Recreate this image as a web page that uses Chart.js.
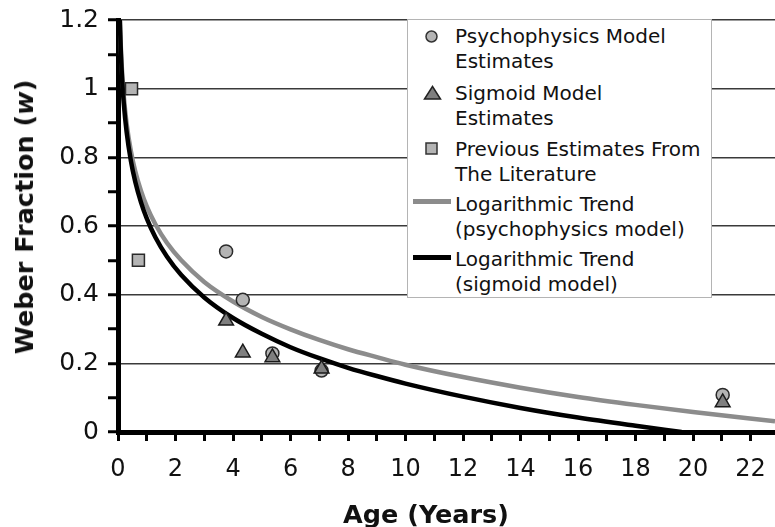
<!DOCTYPE html>
<html>
<head>
<meta charset="utf-8">
<script src="https://cdn.jsdelivr.net/npm/chart.js@4.4.1/dist/chart.umd.min.js"></script>
<style>
  body { margin: 0; background: #fff; }
  #wrap { position: relative; width: 775px; height: 527px; font-family: "DejaVu Sans", Verdana, sans-serif; color: #111; overflow: hidden; }
  #chart { position: absolute; left: 0; top: 0; }
  .axis-title { position: absolute; font-weight: bold; font-size: 25.5px; line-height: 26px; white-space: nowrap; }
  #legend { position: absolute; left: 407px; top: 19px; width: 305px; height: 279px; box-sizing: border-box; border: 1.5px solid #b4b4b4; background: #fff; }
  .entry { position: absolute; left: 455px; font-size: 20px; line-height: 25px; white-space: nowrap; }
  .icon { position: absolute; }
  .swatch { position: absolute; left: 413px; width: 38px; height: 4.5px; }
</style>
</head>
<body>
<div id="wrap">
  <canvas id="chart" width="775" height="527"></canvas>

  <div class="axis-title" style="left:24px; top:217px; transform: translate(-50%,-50%) rotate(-90deg);">Weber Fraction (<i>w</i>)</div>
  <div class="axis-title" style="left:426px; top:501px; transform: translateX(-50%);">Age (Years)</div>

  <div id="legend"></div>
  <svg class="icon" style="left:424px; top:29px" width="15" height="15"><circle cx="7.5" cy="7.5" r="5.5" fill="#b4b4b4" stroke="#333" stroke-width="1.5"/></svg>
  <div class="entry" style="top:24px">Psychophysics Model<br>Estimates</div>
  <svg class="icon" style="left:423px; top:85px" width="19" height="16"><polygon points="9.5,1.5 1.5,14 17.5,14" fill="#7f7f7f" stroke="#222" stroke-width="1.5"/></svg>
  <div class="entry" style="top:81px">Sigmoid Model<br>Estimates</div>
  <svg class="icon" style="left:425px; top:142px" width="13" height="13"><rect x="1" y="1" width="11" height="11" fill="#b4b4b4" stroke="#333" stroke-width="1.5"/></svg>
  <div class="entry" style="top:137px">Previous Estimates From<br>The Literature</div>
  <div class="swatch" style="top:199px; background:#8c8c8c"></div>
  <div class="entry" style="top:192px">Logarithmic Trend<br>(psychophysics model)</div>
  <div class="swatch" style="top:255px; background:#000"></div>
  <div class="entry" style="top:247px">Logarithmic Trend<br>(sigmoid model)</div>
</div>

<script>
// values
const psyAge = [3.76, 4.34, 5.37, 7.08, 21.03];
const psyW   = [0.526, 0.385, 0.229, 0.179, 0.108];

const sigAge = [3.76, 4.34, 5.37, 7.08, 21.03];
const sigW   = [0.324, 0.231, 0.217, 0.184, 0.086];

const litAge = [0.47, 0.71];
const litW   = [1.0, 0.5];

// trend curves
const psyTrendAge = [0.066, 0.1, 0.15, 0.2, 0.3, 0.45, 0.6, 0.8, 1, 1.3, 1.7, 2.2, 3, 4, 5, 6, 7, 8, 9, 10, 12, 14, 16, 18, 20, 22.85];
const psyTrendW   = [1.2, 1.118, 1.036, 0.979, 0.898, 0.817, 0.759, 0.702, 0.657, 0.605, 0.551, 0.5, 0.437, 0.38, 0.335, 0.299, 0.268, 0.241, 0.218, 0.196, 0.16, 0.129, 0.102, 0.079, 0.058, 0.031];

const sigTrendAge = [0.063, 0.1, 0.15, 0.2, 0.3, 0.45, 0.6, 0.8, 1, 1.3, 1.7, 2.2, 3, 4, 5, 6, 7, 8, 9, 10, 12, 14, 16, 18, 19.6];
const sigTrendW   = [1.2, 1.103, 1.018, 0.958, 0.874, 0.789, 0.729, 0.669, 0.622, 0.567, 0.511, 0.457, 0.392, 0.332, 0.286, 0.247, 0.215, 0.187, 0.163, 0.141, 0.103, 0.07, 0.042, 0.018, 0];

const xMin = 0, xMax = 22.85;
const yMin = 0, yMax = 1.2;

function pts(xs, ys) {
  return xs.map((x, i) => ({ x: x, y: ys[i] }));
}

const fontFamily = '"DejaVu Sans", Verdana, sans-serif';

new Chart(document.getElementById('chart').getContext('2d'), {
  type: 'scatter',
  data: {
    datasets: [
      {
        label: 'Sigmoid Model Estimates',
        data: pts(sigAge, sigW),
        pointStyle: 'triangle',
        pointRadius: 8.5,
        backgroundColor: '#7f7f7f',
        borderColor: '#1a1a1a',
        borderWidth: 1.5,
        order: 0
      },
      {
        label: 'Psychophysics Model Estimates',
        data: pts(psyAge, psyW),
        pointStyle: 'circle',
        pointRadius: 6.5,
        backgroundColor: '#b4b4b4',
        borderColor: '#2a2a2a',
        borderWidth: 1.5,
        order: 1
      },
      {
        label: 'Previous Estimates From The Literature',
        data: pts(litAge, litW),
        pointStyle: 'rect',
        pointRadius: 8.5,
        backgroundColor: '#b4b4b4',
        borderColor: '#2a2a2a',
        borderWidth: 1.5,
        order: 2
      },
      {
        label: 'Logarithmic Trend (sigmoid model)',
        data: pts(sigTrendAge, sigTrendW),
        showLine: true,
        pointRadius: 0,
        borderColor: '#000',
        borderWidth: 4.5,
        cubicInterpolationMode: 'monotone',
        order: 3
      },
      {
        label: 'Logarithmic Trend (psychophysics model)',
        data: pts(psyTrendAge, psyTrendW),
        showLine: true,
        pointRadius: 0,
        borderColor: '#8c8c8c',
        borderWidth: 4.5,
        cubicInterpolationMode: 'monotone',
        order: 4
      }
    ]
  },
  options: {
    responsive: false,
    animation: false,
    devicePixelRatio: 1,
    layout: { autoPadding: false, padding: { top: 20, right: 0, bottom: 0, left: 0 } },
    plugins: {
      legend: { display: false },
      tooltip: { enabled: false }
    },
    scales: {
      x: {
        type: 'linear',
        min: xMin,
        max: xMax,
        afterFit: (s) => { s.height = 95; s.paddingLeft = 0; s.paddingRight = 0; },
        ticks: {
          stepSize: 1,
          includeBounds: false,
          autoSkip: false,
          maxRotation: 0,
          padding: 14,
          color: '#111',
          font: { family: fontFamily, size: 24 },
          callback: (v) => (Math.abs(v - Math.round(v)) < 1e-6 && Math.round(v) % 2 === 0 ? String(Math.round(v)) : '')
        },
        grid: {
          drawOnChartArea: false,
          drawTicks: true,
          tickLength: 9,
          tickWidth: 3,
          tickColor: '#000'
        },
        border: { display: true, color: '#000', width: 5 }
      },
      y: {
        type: 'linear',
        min: yMin,
        max: yMax,
        afterFit: (s) => { s.width = 118; s.paddingTop = 0; s.paddingBottom = 0; },
        ticks: {
          stepSize: 0.1,
          autoSkip: false,
          padding: 9,
          color: '#111',
          font: { family: fontFamily, size: 25 },
          callback: (v) => {
            const k = Math.round(v * 10);
            return k % 2 === 0 ? String(k / 10) : '';
          }
        },
        grid: {
          color: (c) => (c.tick && Math.round(c.tick.value * 10) % 2 === 0 ? '#3a3a3a' : 'rgba(0,0,0,0)'),
          lineWidth: 1.5,
          tickLength: 10,
          tickWidth: 3,
          tickColor: '#000'
        },
        border: { display: true, color: '#000', width: 5 }
      }
    }
  }
});
</script>
</body>
</html>
